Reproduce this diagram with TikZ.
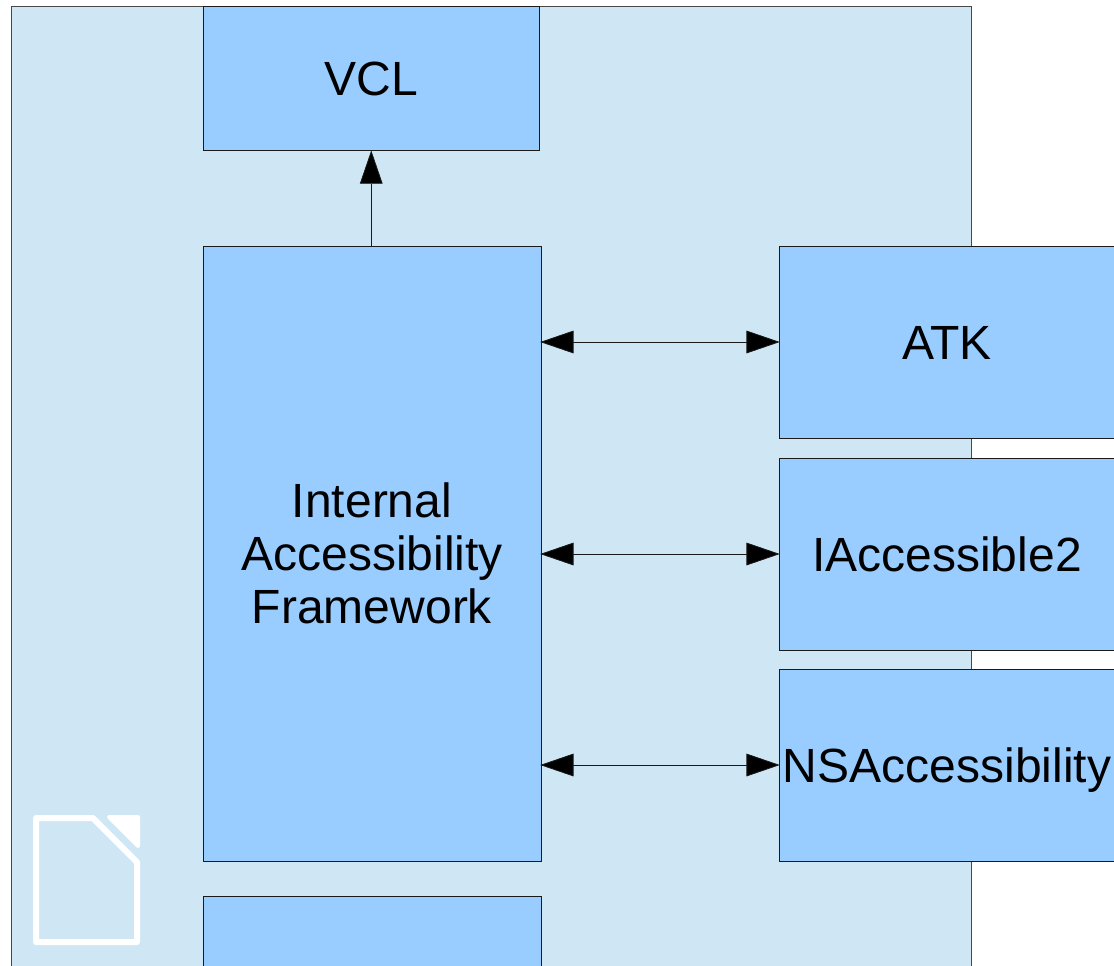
\documentclass[tikz,border=0pt]{standalone}
\usepackage{fontspec}
\setmainfont{Liberation Sans}
\usetikzlibrary{arrows.meta}
\definecolor{panelblue}{HTML}{CFE7F5}
\definecolor{boxblue}{HTML}{99CCFF}
\definecolor{edgegrey}{HTML}{1A1A1A}
\tikzstyle{block}=[draw=edgegrey,line width=0.6pt,fill=boxblue,inner sep=0pt,align=center,font=\fontsize{36}{39.9}\selectfont]
\tikzstyle{oneline}=[text height=31.5pt,text depth=6pt]
\tikzstyle{sidebox}=[block,oneline,minimum width=252pt,minimum height=144pt]
\tikzstyle{link}=[draw=edgegrey,line width=0.6pt,shorten <=-0.9pt,shorten >=-0.9pt,{Triangle[length=25pt,width=17pt,fill=black]}-{Triangle[length=25pt,width=17pt,fill=black]}]
\tikzstyle{uplink}=[draw=edgegrey,line width=0.6pt,-{Triangle[length=25pt,width=17pt,fill=black]}]
\tikzstyle{logo}=[draw=white,fill=none,line width=4.5pt,line join=round]

\begin{document}
\begin{tikzpicture}[x=0.75pt,y=-0.75pt]
    \useasboundingbox (0,0) rectangle (1114,965);
    \clip (0,0) rectangle (1114,965);
    \node (panel) [draw=edgegrey!80,line width=0.6pt,fill=panelblue,inner sep=0pt,
        minimum width=720pt,minimum height=745.5pt] at (491,503) {};
    \node (vcl) [block,oneline,minimum width=252.2pt,minimum height=108pt] at (371.25,78) {VCL};
    \node (framework) [block,minimum width=253.5pt,minimum height=461.25pt] at (372,553.5)
        {Internal\\Accessibility\\Framework};
    \node (lower) [block,minimum width=253.5pt,minimum height=75pt] at (372,946) {};
    \node (atk) [sidebox] at (947,342) {ATK};
    \node (iaccessible) [sidebox] at (947,554) {IAccessible2};
    \node (nsaccessibility) [sidebox] at (947,765) {NSAccessibility};
    \draw [uplink] (framework.north -| vcl.south) -- (vcl.south);
    \draw [link] (framework.east |- atk.west) -- (atk.west);
    \draw [link] (framework.east |- iaccessible.west) -- (iaccessible.west);
    \draw [link] (framework.east |- nsaccessibility.west) -- (nsaccessibility.west);
    % logo
    \draw [logo] (36,818) -- (93,818) -- (137,862) -- (137,942) -- (36,942) -- cycle;
    \fill [white,draw=white,line width=3pt,line join=round] (109,817) -- (138,817) -- (138,846) -- cycle;
\end{tikzpicture}
\end{document}
